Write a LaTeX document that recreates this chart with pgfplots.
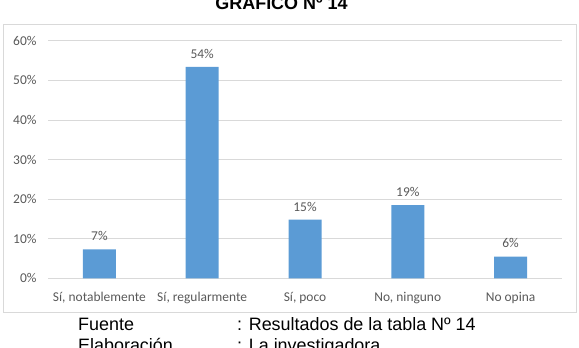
\documentclass[border=0pt]{standalone}
\usepackage{pgfplots}
\pgfplotsset{compat=1.18}
\usepackage{fontspec}
\setmainfont{Liberation Sans}
\newfontfamily\calibri{Carlito}
\definecolor{barblue}{HTML}{5B9BD5}
\definecolor{gridgray}{HTML}{D9D9D9}
\definecolor{txtgray}{HTML}{595959}
\begin{document}
\begin{tikzpicture}[x=1bp,y=1bp]
\useasboundingbox (0,0) rectangle (579,347);
\clip (0,0) rectangle (579,347);
\draw[gridgray, line width=0.8bp] (3,34.3) rectangle (576,323);
\begin{axis}[
  at={(48bp,68.7bp)}, anchor=south west,
  scale only axis, width=514bp, height=237.6bp,
  xmin=-0.5, xmax=4.5, ymin=0, ymax=60,
  axis line style={draw=none},
  tick style={draw=none},
  ymajorgrids, major grid style={gridgray, line width=0.8bp},
  ytick={0,10,...,60},
  yticklabel={\pgfmathprintnumber{\tick}\%},
  /pgf/number format/assume math mode=true,
  yticklabel style={font=\calibri\fontsize{13.5}{15}\selectfont, text=txtgray, xshift=-8bp},
  xtick=data,
  xticklabels={{Sí, notablemente},{Sí, regularmente},{Sí, poco},{No, ninguno},{No opina}},
  xticklabel style={font=\calibri\fontsize{13.5}{15}\selectfont, text=txtgray, yshift=-6bp},
  ybar, bar width=33bp,
  point meta=explicit symbolic,
  nodes near coords,
  nodes near coords style={font=\calibri\fontsize{13.5}{15}\selectfont, text=txtgray, yshift=5bp},
]
\addplot[fill=barblue, draw=none] coordinates {
  (0,7.3) [7\%]
  (1,53.4) [54\%]
  (2,14.8) [15\%]
  (3,18.5) [19\%]
  (4,5.5) [6\%]
};
\end{axis}
\node[anchor=base, inner sep=0, font=\bfseries\fontsize{18}{21}\selectfont] at (281.5,337.5) {GRÁFICO Nº 14};
\node[anchor=base west, inner sep=0, font=\fontsize{18}{21}\selectfont] at (78,17) {Fuente};
\node[anchor=base west, inner sep=0, font=\fontsize{18}{21}\selectfont] at (237,17) {: Resultados de la tabla Nº 14};
\node[anchor=base west, inner sep=0, font=\fontsize{18}{21}\selectfont] at (78,-4) {Elaboración};
\node[anchor=base west, inner sep=0, font=\fontsize{18}{21}\selectfont] at (237,-4) {: La investigadora};
\end{tikzpicture}
\end{document}
